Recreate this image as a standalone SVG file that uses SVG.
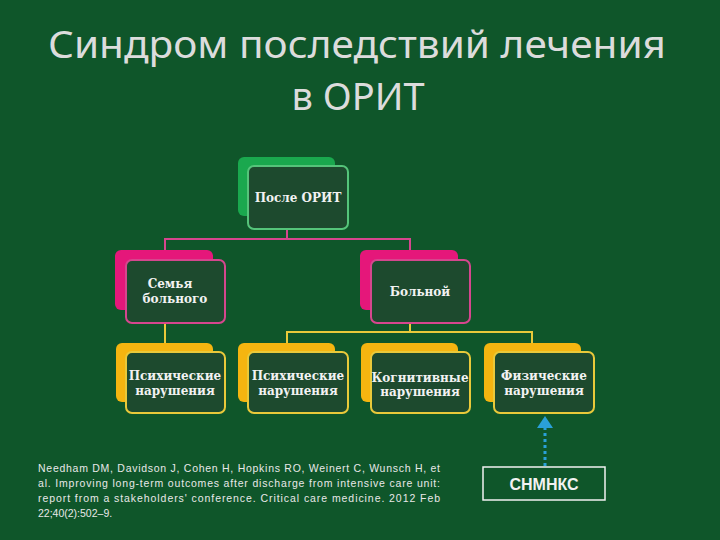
<svg xmlns="http://www.w3.org/2000/svg" width="720" height="540" viewBox="0 0 720 540">
<style>
.t{font-family:"DejaVu Serif","Liberation Serif",serif;font-size:12px;font-weight:bold;fill:#f2f2f2;text-anchor:middle}
.front{fill:#1d4a2e;stroke-width:2}
.g .b{fill:#1aa84e}.g .front{stroke:#55c47a}
.p .b{fill:#e5177a}.p .front{stroke:#d6468e}
.y .b{fill:#f5b510}.y .front{stroke:#e9c93a}
.ln{fill:none;stroke-width:2}
</style>
<rect width="720" height="540" fill="#0f562a"/>
<g id="title" font-family="'Noto Sans','DejaVu Sans',sans-serif" font-size="38" fill="#dcdcdc" text-anchor="middle">
<text x="357" y="58" textLength="618" lengthAdjust="spacingAndGlyphs">Синдром последствий лечения</text>
<text x="358" y="110">в ОРИТ</text>
</g>
<g id="connectors">
<path class="ln" stroke="#d6468e" d="M287 229V239M165 250V239H410V250"/>
<path class="ln" stroke="#e9c93a" d="M165 323V345M410 323V332M287 345V332H532V345"/>
<path fill="none" stroke="#2aa0d8" stroke-width="3" stroke-dasharray="3 3" d="M545 466V428"/>
<path fill="#2aa0d8" d="M537 428L545 416L553 428Z"/>
</g>
<g id="n0" class="g"><rect class="b" x="238" y="157" width="97" height="59" rx="6"/><rect class="front" x="248" y="166" width="100" height="63" rx="6"/><text class="t" x="298" y="202" font-size="11">После ОРИТ</text></g>
<g id="n1" class="p"><rect class="b" x="115" y="250" width="98" height="60" rx="6"/><rect class="front" x="126" y="260" width="99" height="63" rx="6"/><text class="t" x="170" y="288">Семья</text><text class="t" x="175" y="303">больного</text></g>
<g id="n2" class="p"><rect class="b" x="360" y="250" width="98" height="60" rx="6"/><rect class="front" x="371" y="260" width="99" height="63" rx="6"/><text class="t" x="420" y="296">Больной</text></g>
<g id="n3" class="y"><rect class="b" x="116" y="343" width="97" height="59" rx="6"/><rect class="front" x="126" y="352" width="99" height="61" rx="6"/><text class="t" x="175" y="380">Психические</text><text class="t" x="175" y="395">нарушения</text></g>
<g id="n4" class="y"><rect class="b" x="238" y="343" width="97" height="59" rx="6"/><rect class="front" x="248" y="352" width="100" height="61" rx="6"/><text class="t" x="298" y="380">Психические</text><text class="t" x="298" y="395">нарушения</text></g>
<g id="n5" class="y"><rect class="b" x="361" y="343" width="97" height="59" rx="6"/><rect class="front" x="371" y="352" width="99" height="61" rx="6"/><text class="t" x="420" y="382" font-size="10.5">Когнитивные</text><text class="t" x="420" y="396" font-size="10.5">нарушения</text></g>
<g id="n6" class="y"><rect class="b" x="484" y="343" width="97" height="59" rx="6"/><rect class="front" x="494" y="352" width="100" height="61" rx="6"/><text class="t" x="544" y="380">Физические</text><text class="t" x="544" y="395">нарушения</text></g>
<g id="n7"><rect x="483" y="467" width="122" height="33" fill="none" stroke="#f2f2f2" stroke-width="1.5"/><text x="544" y="490" font-family="'Liberation Sans',Arial,sans-serif" font-weight="bold" font-size="16" fill="#f2f2f2" text-anchor="middle">СНМНКС</text></g>
<g id="cite" font-family="'Liberation Sans',Arial,sans-serif" font-size="10.5" fill="#e8e8e8">
<text x="38" y="472" textLength="402" lengthAdjust="spacing">Needham DM, Davidson J, Cohen H, Hopkins RO, Weinert C, Wunsch H, et</text>
<text x="38" y="487" textLength="402" lengthAdjust="spacing">al. Improving long-term outcomes after discharge from intensive care unit:</text>
<text x="38" y="502" textLength="402" lengthAdjust="spacing">report from a stakeholders' conference. Critical care medicine. 2012 Feb</text>
<text x="38" y="517">22;40(2):502–9.</text>
</g>
</svg>
